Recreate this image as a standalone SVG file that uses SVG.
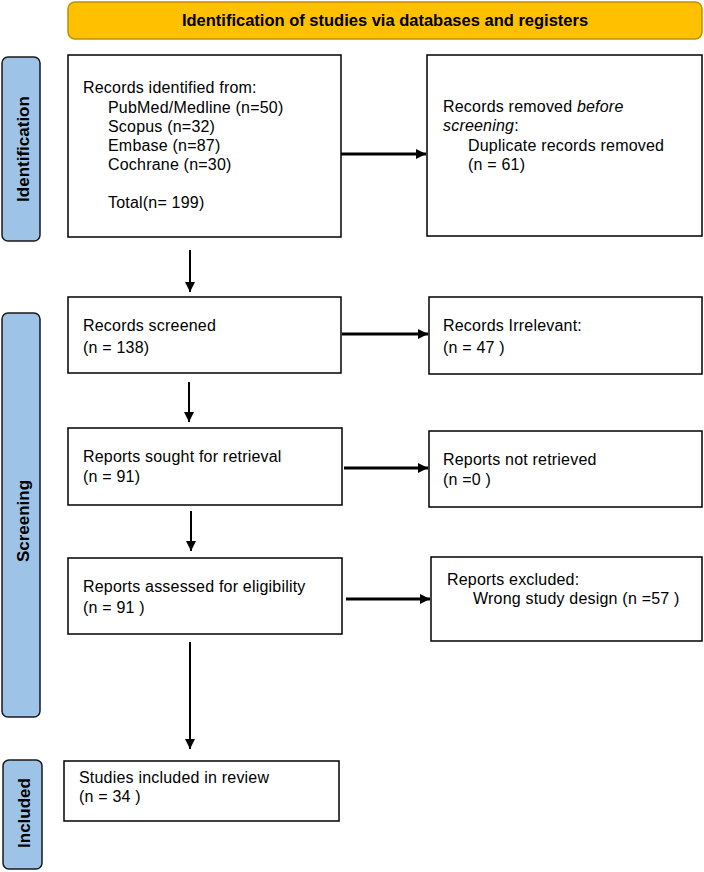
<svg xmlns="http://www.w3.org/2000/svg" width="704" height="872" viewBox="0 0 704 872">
<style>
.box{fill:#fff;stroke:#000;stroke-width:1.5}
.side{fill:#9DC3E6;stroke:#1a1a1a;stroke-width:1.5}
.t{font-family:"Liberation Sans",Arial,sans-serif;font-size:16px;fill:#000;letter-spacing:0.2px}
.sl{font-family:"Liberation Sans",Arial,sans-serif;font-size:17px;font-weight:bold;fill:#000;text-anchor:middle}
.ttl{font-family:"Liberation Sans",Arial,sans-serif;font-size:16.5px;font-weight:bold;fill:#000;text-anchor:middle}
.h{stroke:#000;stroke-width:3;fill:none}
.v{stroke:#000;stroke-width:2;fill:none}
</style>
<defs>
<marker id="ah" viewBox="0 0 10 10" refX="10" refY="5" markerWidth="10" markerHeight="10" markerUnits="userSpaceOnUse" orient="auto">
<path d="M0,0 L10,5 L0,10 z" fill="#000"/>
</marker>
</defs>
<g id="title">
<rect x="68" y="2" width="634" height="37" rx="7" fill="#FFC000" stroke="#BF9000" stroke-width="1.5"/>
<text class="ttl" x="385" y="26">Identification of studies via databases and registers</text>
</g>
<g id="side-identification">
<rect class="side" x="2" y="57" width="38" height="184" rx="6"/>
<text class="sl" transform="translate(29,149) rotate(-90)">Identification</text>
</g>
<g id="side-screening">
<rect class="side" x="2" y="313" width="38" height="404" rx="6"/>
<text class="sl" transform="translate(29,521) rotate(-90)">Screening</text>
</g>
<g id="side-included">
<rect class="side" x="3" y="760" width="39" height="109" rx="6"/>
<text class="sl" transform="translate(30,813) rotate(-90)">Included</text>
</g>
<g id="records-identified">
<rect class="box" x="68" y="55" width="273" height="182"/>
<text class="t" x="83" y="93">Records identified from:</text>
<text class="t" x="108" y="113">PubMed/Medline (n=50)</text>
<text class="t" x="108" y="132">Scopus (n=32)</text>
<text class="t" x="108" y="151">Embase (n=87)</text>
<text class="t" x="108" y="170">Cochrane (n=30)</text>
<text class="t" x="108" y="208">Total(n= 199)</text>
</g>
<g id="records-removed">
<rect class="box" x="427" y="55" width="275" height="181"/>
<text class="t" x="443" y="112">Records removed <tspan font-style="italic">before</tspan></text>
<text class="t" x="443" y="131"><tspan font-style="italic">screening</tspan>:</text>
<text class="t" x="468" y="151">Duplicate records removed</text>
<text class="t" x="468" y="170">(n = 61)</text>
</g>
<g id="records-screened">
<rect class="box" x="68" y="297" width="273" height="76"/>
<text class="t" x="83" y="331">Records screened</text>
<text class="t" x="83" y="353">(n = 138)</text>
</g>
<g id="records-irrelevant">
<rect class="box" x="429" y="297" width="273" height="77"/>
<text class="t" x="443" y="331">Records Irrelevant:</text>
<text class="t" x="443" y="353" xml:space="preserve">(n = 47 )</text>
</g>
<g id="reports-sought">
<rect class="box" x="68" y="428" width="274" height="77"/>
<text class="t" x="83" y="462">Reports sought for retrieval</text>
<text class="t" x="83" y="482">(n = 91)</text>
</g>
<g id="reports-not-retrieved">
<rect class="box" x="429" y="431" width="273" height="76"/>
<text class="t" x="443" y="465">Reports not retrieved</text>
<text class="t" x="443" y="485" xml:space="preserve">(n =0 )</text>
</g>
<g id="reports-assessed">
<rect class="box" x="68" y="558" width="274" height="76"/>
<text class="t" x="83" y="592">Reports assessed for eligibility</text>
<text class="t" x="83" y="613" xml:space="preserve">(n = 91 )</text>
</g>
<g id="reports-excluded">
<rect class="box" x="431" y="557" width="271" height="84"/>
<text class="t" x="447" y="585">Reports excluded:</text>
<text class="t" x="473" y="604" xml:space="preserve">Wrong study design (n =57 )</text>
</g>
<g id="studies-included">
<rect class="box" x="64" y="761" width="275" height="60"/>
<text class="t" x="79" y="783">Studies included in review</text>
<text class="t" x="79" y="802" xml:space="preserve">(n = 34 )</text>
</g>
<g id="connectors">
<line class="h" x1="341" y1="154" x2="426" y2="154" marker-end="url(#ah)"/>
<line class="v" x1="190" y1="250" x2="190" y2="292" marker-end="url(#ah)"/>
<line class="h" x1="342" y1="334" x2="428" y2="334" marker-end="url(#ah)"/>
<line class="v" x1="189" y1="382" x2="189" y2="422" marker-end="url(#ah)"/>
<line class="h" x1="344" y1="468" x2="428" y2="468" marker-end="url(#ah)"/>
<line class="v" x1="191" y1="511" x2="191" y2="551" marker-end="url(#ah)"/>
<line class="h" x1="346" y1="599" x2="430" y2="599" marker-end="url(#ah)"/>
<line class="v" x1="190" y1="642" x2="190" y2="749" marker-end="url(#ah)"/>
</g>
</svg>
